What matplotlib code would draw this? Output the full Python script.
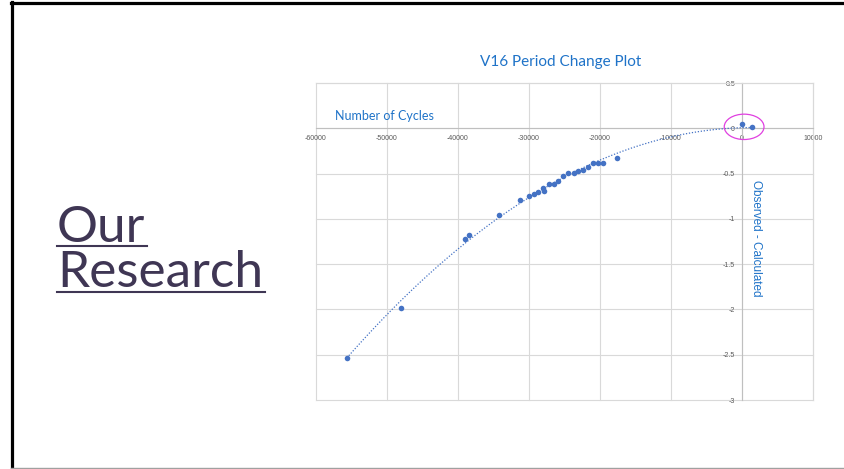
import numpy as np
import matplotlib
matplotlib.use("Agg")
import matplotlib.pyplot as plt
from matplotlib.lines import Line2D
from matplotlib.patches import Ellipse
from matplotlib.ticker import FuncFormatter

plt.rcParams['axes.unicode_minus'] = False

# data: cycle number vs O-C
cycles = [-55660, -48010, -39040, -38440, -34210, -31260, -30030, -29290,
          -28720, -27980, -27840, -27220, -26510, -25870, -25160, -24500,
          -23700, -23130, -22390, -21680, -21020, -20320, -19570, -17560,
          0, 1370]
o_minus_c = [-2.535, -1.988, -1.220, -1.173, -0.953, -0.787, -0.751, -0.725,
             -0.707, -0.655, -0.692, -0.615, -0.615, -0.578, -0.523, -0.498,
             -0.498, -0.468, -0.460, -0.432, -0.380, -0.388, -0.383, -0.325,
             0.042, 0.013]
x_ticks = [-60000, -50000, -40000, -30000, -20000, -10000, 0, 10000]
y_ticks = [-3, -2.5, -2, -1.5, -1, -0.5, 0, 0.5]

W, H = 845, 469
fig = plt.figure(figsize=(W / 100, H / 100), dpi=100)
fig.patch.set_facecolor('white')

ax = fig.add_axes([316 / W, 1 - 400 / H, (813 - 316) / W, (400 - 83) / H])
ax.set_xlim(x_ticks[0], x_ticks[-1])
ax.set_ylim(y_ticks[0], y_ticks[-1])
ax.set_xticks(x_ticks)
ax.set_yticks(y_ticks)
ax.xaxis.set_major_formatter(FuncFormatter(lambda v, p: f"{v:g}"))
ax.yaxis.set_major_formatter(FuncFormatter(lambda v, p: f"{v:g}"))

# axes cross at zero like Excel
ax.spines['left'].set_position(('data', 0))
ax.spines['bottom'].set_position(('data', 0))
for s in ['left', 'bottom']:
    ax.spines[s].set_color('#BFBFBF')
    ax.spines[s].set_linewidth(0.8)
for s in ['top', 'right']:
    ax.spines[s].set_color('#D9D9D9')
    ax.spines[s].set_linewidth(0.8)

ax.grid(True, color='#D9D9D9', linewidth=0.8)
ax.set_axisbelow(True)
for gl in ax.get_xgridlines() + ax.get_ygridlines():
    gl.set_clip_on(False)

ax.tick_params(length=0, labelsize=5, labelcolor='#595959', pad=5)
for lab in ax.get_xticklabels() + ax.get_yticklabels():
    lab.set_family('Liberation Sans')

# polynomial (order 2) trendline, dotted
coef = np.polyfit(cycles, o_minus_c, 2)
xs = np.linspace(min(cycles), max(cycles), 200)
ax.plot(xs, np.polyval(coef, xs), color='#4472C4', lw=0.9,
        linestyle=(0, (1, 1.4)), zorder=3)

ax.scatter(cycles, o_minus_c, s=16, color='#4472C4', zorder=4, linewidths=0)

# highlight ring around the recent points
ax.add_patch(Ellipse((300, 0.016), 5600, 0.28, fill=False,
                     edgecolor='#E040E0', lw=0.9, clip_on=False, zorder=5))

blue = '#1F73C8'
fig.text(561 / W, 1 - 62 / H, 'V16 Period Change Plot', ha='center', va='center',
         fontsize=11, color=blue, family='Lato')
fig.text(335 / W, 1 - 116 / H, 'Number of Cycles', ha='left', va='center',
         fontsize=9, color=blue, family='Lato')
fig.text(756 / W, 1 - 238 / H, 'Observed - Calculated', ha='center', va='center',
         rotation=-90, fontsize=8.5, color=blue, family='Liberation Sans')

# slide heading with underline
purple = '#3F3654'
t1 = fig.text(57 / W, 1 - 242 / H, 'Our', ha='left', va='baseline',
              fontsize=37, color=purple, family='Lato')
t2 = fig.text(57 / W, 1 - 287 / H, 'Research', ha='left', va='baseline',
              fontsize=37, color=purple, family='Lato')
fig.canvas.draw()
r = fig.canvas.get_renderer()
for t, yb in [(t1, 246), (t2, 292)]:
    bb = t.get_window_extent(r)
    fig.add_artist(Line2D([bb.x0 / W, (bb.x1 + 2) / W], [1 - yb / H] * 2,
                          color=purple, lw=1.5))

# slide frame
fig.add_artist(Line2D([12.5 / W, 12.5 / W], [1 - 2 / H, 1 - 468 / H], color='black', lw=2.3))
fig.add_artist(Line2D([11 / W, 1], [1 - 3 / H] * 2, color='black', lw=2.3))
fig.add_artist(Line2D([11 / W, 1], [1 - 468 / H] * 2, color='#A0A0A0', lw=1))

fig.savefig('out.png', dpi=100)
